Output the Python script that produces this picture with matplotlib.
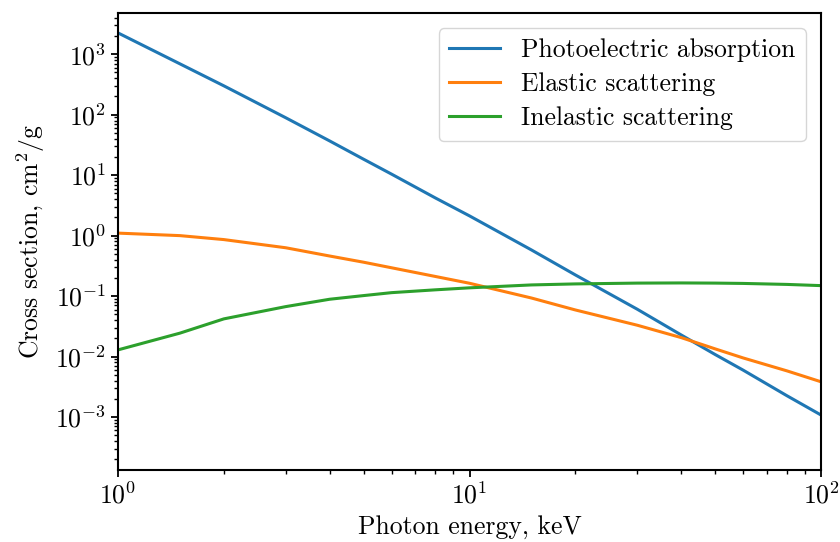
import matplotlib
matplotlib.use("Agg")
import matplotlib.pyplot as plt

plt.rcParams.update({
    "font.family": "serif",
    "font.serif": ["cmr10"],
    "mathtext.fontset": "cm",
    "axes.formatter.use_mathtext": True,
    "axes.unicode_minus": False,
})

# Photon energy grid, keV
energy_kev = [1, 1.5, 2, 3, 4, 5, 6, 8, 10, 15, 20, 30, 40, 50, 60, 80, 100]

# Mass cross sections, cm^2/g
photoelectric = [2250, 693, 300, 89, 36.8, 18.3, 10.4, 4.19, 2.12, 0.58, 0.224,
                 0.0607, 0.0228, 0.0108, 0.00598, 0.00225, 0.00108]
elastic = [1.10, 1.00, 0.86, 0.63, 0.46, 0.363, 0.294, 0.211, 0.163, 0.093, 0.059,
           0.033, 0.0206, 0.0134, 0.0095, 0.0058, 0.00383]
inelastic = [0.0129, 0.0244, 0.042, 0.067, 0.0887, 0.102, 0.114, 0.127, 0.137, 0.153,
             0.159, 0.164, 0.165, 0.164, 0.162, 0.156, 0.149]

fs = 18.5

fig = plt.figure(figsize=(8.4, 5.42), dpi=100)
ax = fig.add_axes([0.1405, 0.1328, 0.8369, 0.8432])

ax.plot(energy_kev, photoelectric, color="#1f77b4", lw=2.2, label="Photoelectric absorption")
ax.plot(energy_kev, elastic, color="#ff7f0e", lw=2.2, label="Elastic scattering")
ax.plot(energy_kev, inelastic, color="#2ca02c", lw=2.2, label="Inelastic scattering")

ax.set_xscale("log")
ax.set_yscale("log")
ax.set_xlim(1, 100)
ax.set_ylim(1.33e-4, 4.8e3)

ax.set_xlabel("Photon energy, keV", fontsize=fs, labelpad=5)
ax.set_ylabel(r"Cross section, $\mathrm{cm}^2/\mathrm{g}$", fontsize=fs, labelpad=6)
ax.tick_params(labelsize=fs)
ax.tick_params(which="major", width=1.3, length=5)
ax.tick_params(which="minor", width=1.0, length=3)
for s in ax.spines.values():
    s.set_linewidth(1.5)

ax.legend(loc="upper right", fontsize=fs, borderaxespad=0.6, labelspacing=0.4)

fig.savefig("out.png", dpi=100)
